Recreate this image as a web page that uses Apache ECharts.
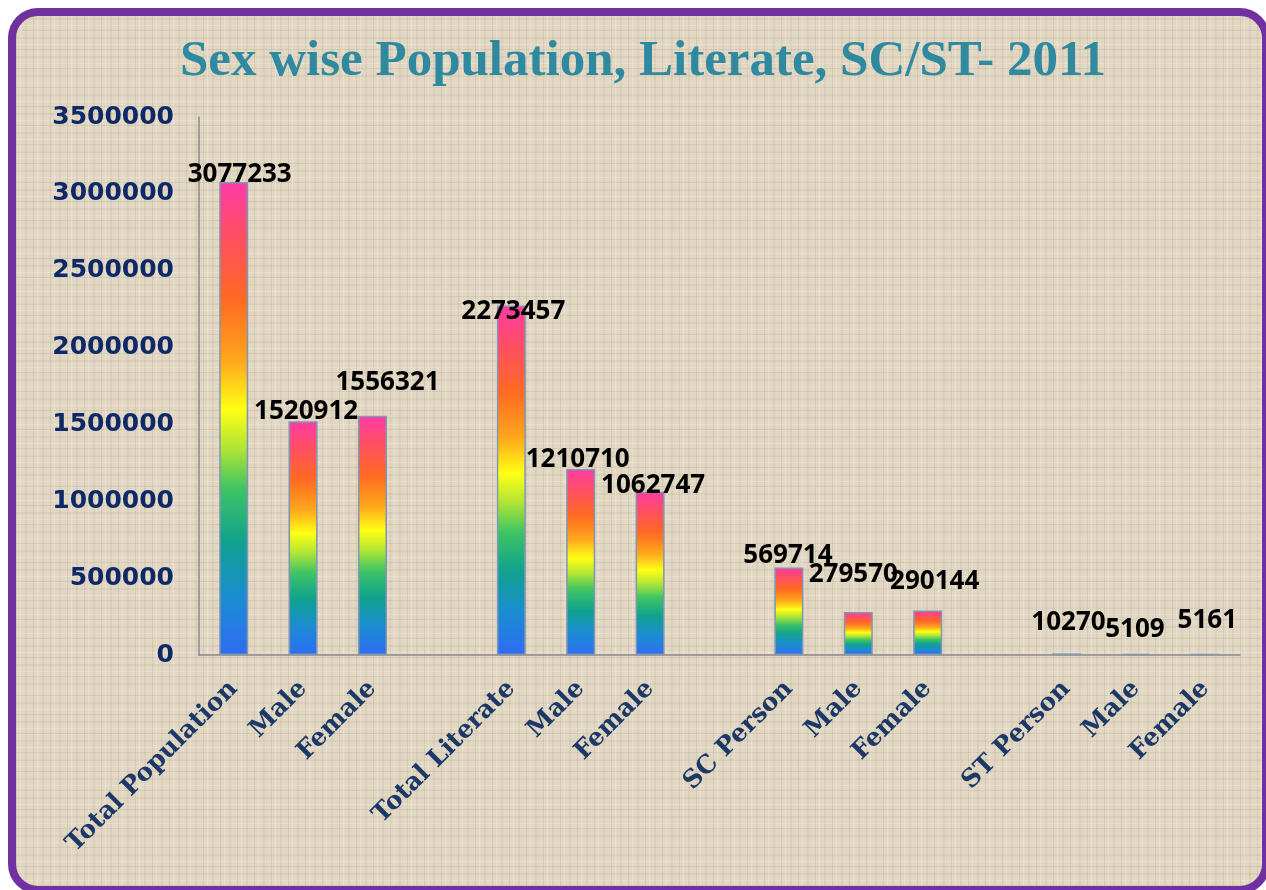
<!DOCTYPE html>
<html>
<head>
<meta charset="utf-8">
<script src="https://cdn.jsdelivr.net/npm/echarts@6/dist/echarts.min.js"></script>
<style>
  html, body { margin: 0; padding: 0; background: #fff; }
  .frame {
    position: absolute; left: 8px; top: 8px; width: 1262px; height: 886px;
    box-sizing: border-box; border: 8px solid #7030a0; border-radius: 30px;
    background-color: #e1d7c3;
    background-image:
      repeating-linear-gradient(90deg, rgba(130,110,80,0.13) 0 1px, rgba(0,0,0,0) 1px 4px, rgba(255,255,255,0.22) 4px 5px, rgba(0,0,0,0) 5px 9px, rgba(130,110,80,0.08) 9px 11px, rgba(0,0,0,0) 11px 17px),
      repeating-linear-gradient(0deg, rgba(130,110,80,0.13) 0 1px, rgba(0,0,0,0) 1px 5px, rgba(255,255,255,0.22) 5px 6px, rgba(0,0,0,0) 6px 11px, rgba(130,110,80,0.08) 11px 13px, rgba(0,0,0,0) 13px 19px);
  }
  #chart { position: absolute; left: 0; top: 0; width: 1266px; height: 890px; }
</style>
</head>
<body>
<div class="frame"></div>
<div id="chart"></div>
<script>
// categories, with an empty slot between the groups
var categories = [
  "Total Population", "Male", "Female", "",
  "Total Literate", "Male", "Female", "",
  "SC Person", "Male", "Female", "",
  "ST Person", "Male", "Female"
];
var values = [
  3077233, 1520912, 1556321, null,
  2273457, 1210710, 1062747, null,
  569714, 279570, 290144, null,
  10270, 5109, 5161
];
var yTicks = [0, 500000, 1000000, 1500000, 2000000, 2500000, 3000000, 3500000];

// label nudges (px) as placed in the original, [dx, lift above bar top]
var labelNudge = [
  [6, 7], [3, 10], [15, 33], null,
  [2, -6], [-3, 9], [3, 6], null,
  [-1, 12], [-5, 37], [7, 29], null,
  [2, 31], [-1, 24], [2, 33]
];

var chart = echarts.init(document.getElementById("chart"));

var rainbow = {
  type: "linear", x: 0, y: 0, x2: 0, y2: 1,
  colorStops: [
    { offset: 0, color: "#ff3aa6" },
    { offset: 0.12, color: "#ff5060" },
    { offset: 0.25, color: "#ff6a22" },
    { offset: 0.38, color: "#ffa81c" },
    { offset: 0.48, color: "#ffff14" },
    { offset: 0.56, color: "#b4e634" },
    { offset: 0.65, color: "#3ec464" },
    { offset: 0.76, color: "#10a28e" },
    { offset: 0.88, color: "#1c8cd2" },
    { offset: 1, color: "#2f6cf4" }
  ]
};

var seriesData = values.map(function (v, i) {
  if (v === null) return "-";
  var n = labelNudge[i];
  return {
    value: v,
    label: { offset: [n[0], 13 - n[1]] }
  };
});

chart.setOption({
  title: {
    text: "Sex wise Population, Literate, SC/ST- 2011",
    left: 175,
    top: 31,
    textStyle: {
      fontFamily: "Liberation Serif",
      fontWeight: "bold",
      fontSize: 51,
      color: "#2f8aa0"
    }
  },
  grid: {
    left: 199,
    right: 26,
    top: 117,
    bottom: 235,
    containLabel: false
  },
  xAxis: {
    type: "category",
    data: categories,
    axisLine: { lineStyle: { color: "#8a8a8a", width: 1.5 } },
    axisTick: { show: false },
    axisLabel: {
      interval: 0,
      rotate: 45,
      margin: 30,
      color: "#1b3866",
      fontFamily: "DejaVu Serif",
      fontWeight: "bold",
      fontSize: 25
    }
  },
  yAxis: {
    type: "value",
    min: yTicks[0],
    max: yTicks[yTicks.length - 1],
    interval: 500000,
    axisLine: { show: true, lineStyle: { color: "#8a8a8a", width: 1.5 } },
    axisTick: { show: false },
    splitLine: { show: false },
    axisLabel: {
      margin: 25,
      color: "#0e2868",
      fontFamily: "DejaVu Sans",
      fontWeight: "bold",
      fontSize: 25,
      formatter: function (v) { return String(v); }
    }
  },
  series: [
    {
      type: "bar",
      data: seriesData,
      barWidth: 29,
      itemStyle: {
        color: rainbow,
        borderColor: "#8296b4",
        borderWidth: 1.5
      },
      label: {
        show: true,
        position: "top",
        distance: 0,
        color: "#000",
        fontFamily: "Open Sans",
        fontWeight: "bold",
        fontSize: 26,
        lineHeight: 26
      }
    }
  ]
});
</script>
</body>
</html>
